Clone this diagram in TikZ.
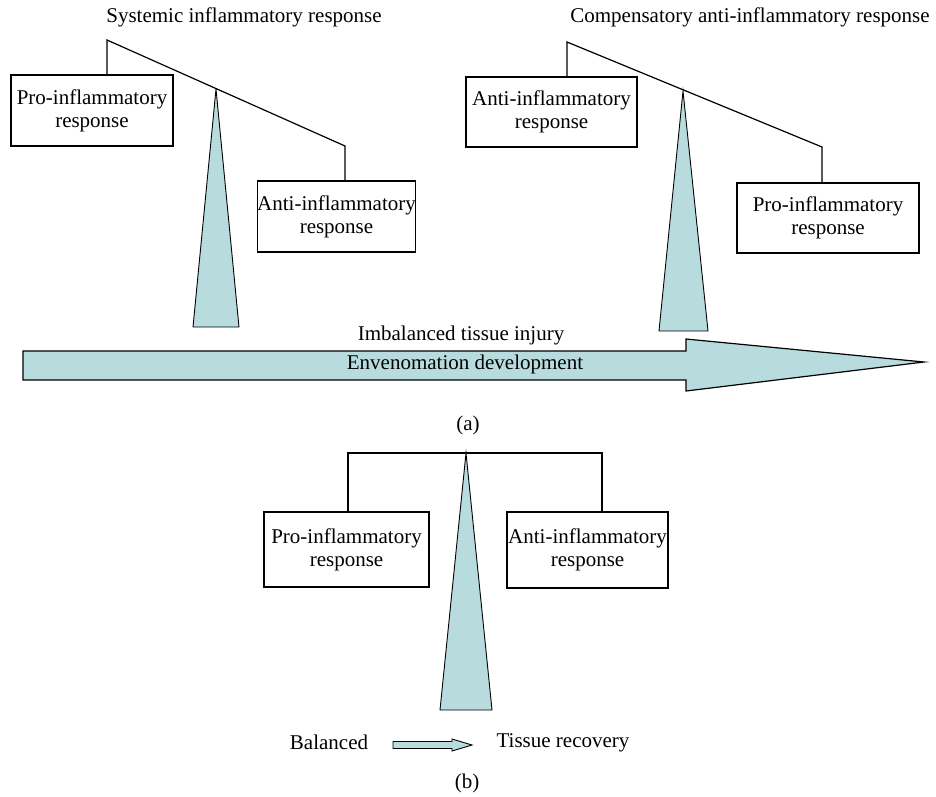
\documentclass[tikz,border=0pt]{standalone}
\usepackage{fontspec}
\setmainfont{Liberation Serif}
\definecolor{teal1}{RGB}{184,220,222}
\begin{document}
\begin{tikzpicture}[x=1pt,y=-1pt,
  txt/.style={font=\fontsize{21}{23}\selectfont, align=center, inner sep=0pt},
  rbox/.style={txt, draw, line width=1.2pt},
  beam/.style={line width=1.2pt},
  wedge/.style={draw, line width=0.9pt, fill=teal1},
]
\useasboundingbox (0,0) rectangle (936,796);
% ---------- panel (a), left ----------
\node[txt] (t1) at (244,17) {Systemic inflammatory response};
\node[rbox, minimum width=162pt, minimum height=71pt] (pl) at (92,110.5) {Pro-inflammatory\\response};
\node[rbox, minimum width=147pt, minimum height=71pt] (ar) at (336.5,216.5) {Anti-inflammatory\\response};
\coordinate (b1l) at (107,40);
\coordinate (b1r) at (345,146);
\draw[beam] (pl.north -| b1l) -- (b1l) -- (b1r) -- (ar.north -| b1r);
\coordinate (w1) at (216,89);
\draw[wedge] (w1) -- (239,327) -- (193,327) -- cycle;
% ---------- panel (a), right ----------
\node[txt] (t2) at (750,17) {Compensatory anti-inflammatory response};
\node[rbox, minimum width=171pt, minimum height=70pt] (al) at (551.5,112) {Anti-inflammatory\\response};
\node[rbox, minimum width=182pt, minimum height=70pt] (pr) at (828,218) {Pro-inflammatory\\response};
\coordinate (b2l) at (567,42);
\coordinate (b2r) at (822,147);
\draw[beam] (al.north -| b2l) -- (b2l) -- (b2r) -- (pr.north -| b2r);
\coordinate (w2) at (683,91);
\draw[wedge] (w2) -- (708,331) -- (659,331) -- cycle;
% ---------- big arrow ----------
\draw[wedge, line width=1.2pt] (23,351) -- (686,351) -- (686,339) -- (924,362) -- (686,391) -- (686,380) -- (23,380) -- cycle;
\node[txt] (imb) at (461,335) {Imbalanced tissue injury};
\node[txt] (env) at (465,364) {Envenomation development};
\node[txt] (la) at (468,425) {(a)};
% ---------- panel (b) ----------
\node[rbox, minimum width=165pt, minimum height=75pt] (pb) at (346.5,549.5) {Pro-inflammatory\\response};
\node[rbox, line width=1.8pt, minimum width=161pt, minimum height=76pt] (ab) at (587.5,550) {Anti-inflammatory\\response};
\coordinate (b3l) at (348,453);
\coordinate (b3r) at (602,453);
\draw[beam] (pb.north -| b3l) -- (b3l) -- (b3r) -- (ab.north -| b3r);
\coordinate (w3) at (466,453);
\draw[wedge] (w3) -- (492,710) -- (440,710) -- cycle;
\node[txt] (bal) at (329,742) {Balanced};
\node[txt] (rec) at (563,743) {Tissue recovery};
\draw[wedge] (393,741.5) -- (452,741.5) -- (452,739) -- (472,745) -- (452,751) -- (452,748.5) -- (393,748.5) -- cycle;
\node[txt] (lb) at (467,783) {(b)};
\end{tikzpicture}
\end{document}
